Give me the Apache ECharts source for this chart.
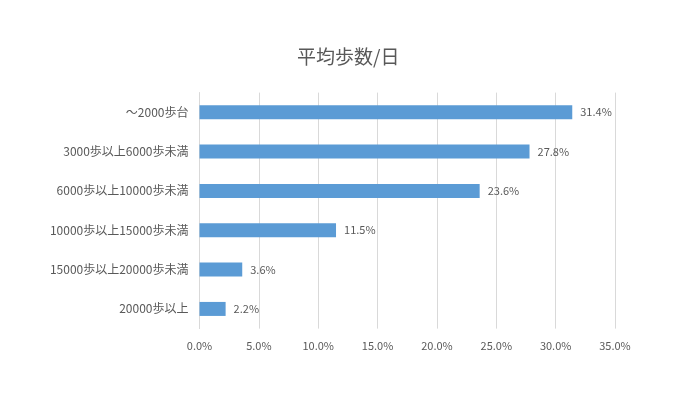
<!DOCTYPE html>
<html><head><meta charset="utf-8">
<script src="https://cdn.jsdelivr.net/npm/echarts@6/dist/echarts.min.js"></script>
<style>html,body{margin:0;padding:0;background:#fff}#c{width:700px;height:393px}</style>
</head><body><div id="c"></div>
<script>
const title = '平均歩数/日';
const categories = ['～2000歩台','3000歩以上6000歩未満','6000歩以上10000歩未満','10000歩以上15000歩未満','15000歩以上20000歩未満','20000歩以上'];
const values = [31.4, 27.8, 23.6, 11.5, 3.6, 2.2];
const xMin = 0, xMax = 35, xStep = 5;

const font = '"Noto Sans CJK JP", "Noto Sans", sans-serif';
const chart = echarts.init(document.getElementById('c'), null, {renderer:'canvas'});
chart.setOption({
  animation:false,
  title:{text:title,left:292,top:42,textStyle:{fontFamily:font,fontSize:19,fontWeight:'normal',color:'#595959'}},
  grid:{left:199.5,right:85,top:92.6,bottom:64.4,containLabel:false},
  xAxis:{type:'value',min:xMin,max:xMax,interval:xStep,
    axisLine:{show:false},axisTick:{show:false},
    splitLine:{show:true,lineStyle:{color:'#d9d9d9',width:1}},
    axisLabel:{formatter:v=>v.toFixed(1)+'%',color:'#595959',fontFamily:font,fontSize:11,margin:12}},
  yAxis:{type:'category',data:categories,inverse:true,
    axisLine:{show:true,lineStyle:{color:'#d9d9d9'}},axisTick:{show:false},
    axisLabel:{color:'#595959',fontFamily:font,fontSize:12,margin:11}},
  series:[{type:'bar',data:values,barWidth:14,itemStyle:{color:'#5B9BD5'},
    label:{show:true,position:'right',distance:8,formatter:p=>p.value.toFixed(1)+'%',color:'#595959',fontFamily:font,fontSize:11}}]
});
</script></body></html>
